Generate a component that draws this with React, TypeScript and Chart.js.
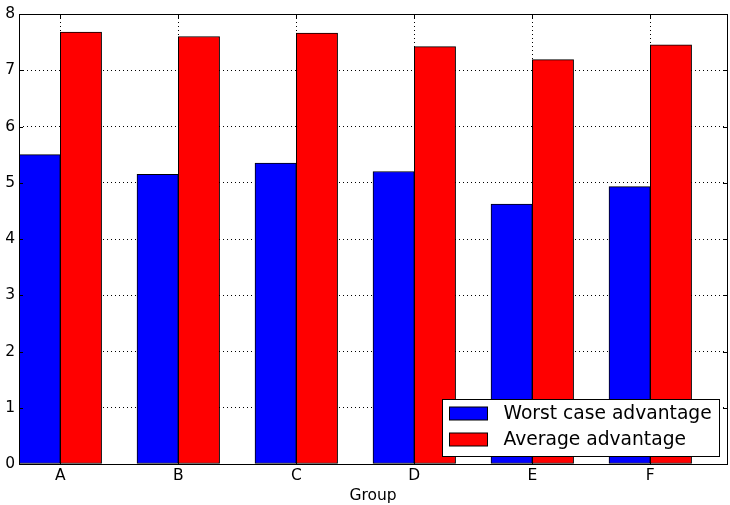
import React, { useEffect, useRef } from "react";
import { Chart, registerables } from "chart.js";

Chart.register(...registerables);

const categories = ["A", "B", "C", "D", "E", "F"];
const worstCase = [5.5, 5.15, 5.35, 5.2, 4.62, 4.93];
const average = [7.68, 7.6, 7.66, 7.42, 7.19, 7.45];
const seriesLabels = ["Worst case advantage", "Average advantage"];
const yTicks = [0, 1, 2, 3, 4, 5, 6, 7, 8];
const barWidth = 0.35;

const FONT = "'DejaVu Sans', sans-serif";

const framePlugin = {
  id: "frame",
  afterDatasetsDraw(chart: any) {
    const { ctx, chartArea: a, scales } = chart;
    ctx.save();
    // inner ticks
    ctx.strokeStyle = "#000";
    ctx.lineWidth = 1;
    const ys = scales.y;
    ys.ticks.forEach((t: any) => {
      const py = Math.round(ys.getPixelForValue(t.value)) + 0.5;
      ctx.beginPath();
      ctx.moveTo(a.left, py);
      ctx.lineTo(a.left + 4, py);
      ctx.moveTo(a.right, py);
      ctx.lineTo(a.right - 4, py);
      ctx.stroke();
    });
    const xs = scales.x;
    xs.ticks.forEach((t: any) => {
      const px = Math.round(xs.getPixelForValue(t.value)) + 0.5;
      ctx.beginPath();
      ctx.moveTo(px, a.top);
      ctx.lineTo(px, a.top + 4);
      ctx.moveTo(px, a.bottom);
      ctx.lineTo(px, a.bottom - 4);
      ctx.stroke();
    });
    // frame
    ctx.strokeStyle = "#000";
    ctx.lineWidth = 1;
    ctx.strokeRect(
      Math.round(a.left) + 0.5,
      Math.round(a.top) + 0.5,
      Math.round(a.right - a.left),
      Math.round(a.bottom - a.top)
    );
    // legend
    const w = 277;
    const h = 57;
    const lx = Math.round(a.right - 8 - w) + 0.5;
    const ly = Math.round(a.bottom - 8 - h) + 0.5;
    ctx.fillStyle = "#fff";
    ctx.fillRect(lx, ly, w, h);
    ctx.strokeRect(lx, ly, w, h);
    chart.data.datasets.forEach((ds: any, i: number) => {
      const cy = ly + 14 + i * 26;
      ctx.fillStyle = ds.backgroundColor;
      ctx.fillRect(lx + 7, cy - 6.5, 38, 13);
      ctx.strokeStyle = "#000";
      ctx.strokeRect(lx + 7, cy - 6.5, 38, 13);
      ctx.fillStyle = "#000";
      ctx.font = `18.7px ${FONT}`;
      ctx.textBaseline = "middle";
      ctx.textAlign = "left";
      ctx.fillText(ds.label, lx + 61, cy + 1);
    });
    ctx.restore();
  },
};

export default function App() {
  const ref = useRef<HTMLCanvasElement>(null);
  useEffect(() => {
    if (!ref.current) return;
    const tickPositions = categories.map((_, i) => i + barWidth);
    const chart = new Chart(ref.current, {
      type: "bar",
      data: {
        datasets: [
          {
            label: seriesLabels[0],
            data: worstCase.map((v, i) => ({ x: i + barWidth / 2, y: v })),
            backgroundColor: "#0000ff",
            borderColor: "#000",
            borderWidth: 1,
            borderSkipped: false,
            grouped: false,
            barPercentage: 1,
            categoryPercentage: 1,
          },
          {
            label: seriesLabels[1],
            data: average.map((v, i) => ({ x: i + barWidth * 1.5, y: v })),
            backgroundColor: "#ff0000",
            borderColor: "#000",
            borderWidth: 1,
            borderSkipped: false,
            grouped: false,
            barPercentage: 1,
            categoryPercentage: 1,
          },
        ] as any,
      },
      options: {
        animation: false,
        responsive: false,
        layout: { padding: { top: 14, right: 3, left: 0, bottom: 0 } },
        plugins: { legend: { display: false }, tooltip: { enabled: false } },
        scales: {
          x: {
            type: "linear",
            min: 0,
            max: categories.length,
            offset: false,
            afterBuildTicks: (scale: any) => {
              scale.ticks = tickPositions.map((v) => ({ value: v }));
            },
            afterFit: (scale: any) => {
              scale.height = 41;
            },
            ticks: {
              callback: (_v: any, i: number) => categories[i],
              color: "#000",
              font: { family: FONT, size: 15.5 },
              padding: 3,
              maxRotation: 0,
              autoSkip: false,
            },
            grid: { color: "#000", drawTicks: false, offset: false },
            border: { display: false, dash: [1, 3] },
            title: {
              display: true,
              text: "Group",
              color: "#000",
              font: { family: FONT, size: 15.5 },
              padding: { top: 0, bottom: 0 },
            },
          },
          y: {
            min: 0,
            max: 8,
            afterBuildTicks: (scale: any) => {
              scale.ticks = yTicks.map((v) => ({ value: v }));
            },
            afterFit: (scale: any) => {
              scale.width = 19;
            },
            ticks: {
              color: "#000",
              font: { family: FONT, size: 15.5 },
              padding: 4,
            },
            grid: { color: "#000", drawTicks: false },
            border: { display: false, dash: [1, 3] },
          },
        } as any,
      },
      plugins: [framePlugin],
    });
    return () => chart.destroy();
  }, []);
  return (
    <div style={{ position: "absolute", left: 0, top: 0, width: 730, height: 505, background: "#fff" }}>
      <canvas ref={ref} width={730} height={505} />
    </div>
  );
}
